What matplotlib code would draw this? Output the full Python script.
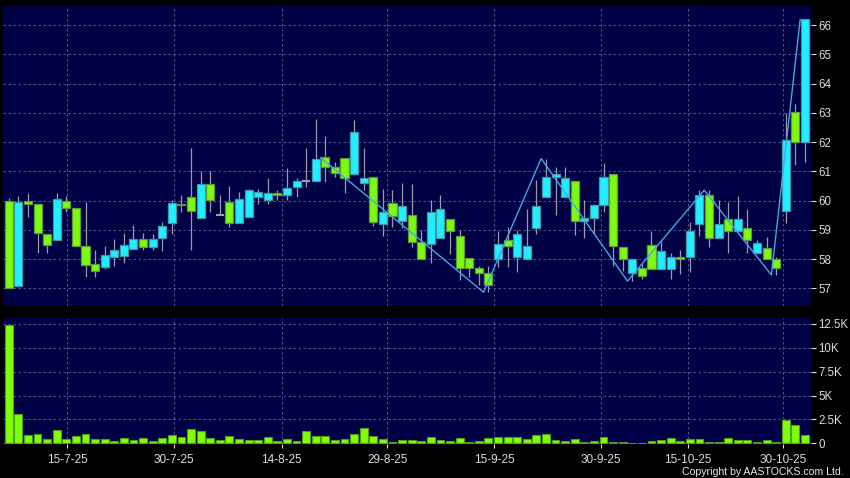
import matplotlib.pyplot as plt
import numpy as np

plt.rcParams['font.family'] = ['Liberation Sans', 'DejaVu Sans']

# daily candles
opens = [60.0, 57.1, 60.0, 59.9, 58.85, 58.65, 60.0, 59.74, 58.44, 57.85,
         57.75, 58.06, 58.1, 58.34, 58.69, 58.41, 58.72, 59.24, 59.9, 60.14,
         59.4, 60.57, 59.5, 59.94, 59.25, 59.45, 60.11, 60.01, 60.27, 60.18,
         60.45, 60.68, 60.67, 61.48, 61.14, 61.45, 60.9, 60.59, 60.8, 59.19,
         59.93, 59.3, 59.5, 58.6, 58.52, 58.74, 59.37, 58.8, 58.05, 57.69,
         57.52, 57.99, 58.66, 58.08, 58.0, 59.05, 60.11, 60.82, 60.13, 60.67,
         59.3, 59.4, 59.85, 60.91, 58.43, 57.54, 57.69, 58.5, 57.66, 57.66,
         58.08, 58.06, 59.2, 60.18, 58.74, 59.39, 58.96, 59.07, 58.2, 58.39,
         57.99, 59.64, 63.04, 61.99]
closes = [57.0, 59.95, 59.9, 58.9, 58.5, 60.05, 59.74, 58.44, 57.79, 57.58,
          58.16, 58.3, 58.5, 58.7, 58.41, 58.7, 59.15, 59.93, 59.84, 59.64,
          60.56, 60.02, 59.5, 59.25, 60.04, 60.35, 60.28, 60.27, 60.18, 60.44,
          60.67, 60.68, 61.41, 61.14, 60.93, 60.79, 62.33, 60.79, 59.26, 59.62,
          59.47, 59.83, 58.6, 58.0, 59.6, 59.73, 58.96, 57.69, 57.69, 57.52,
          57.12, 58.51, 58.46, 58.85, 58.45, 59.83, 60.8, 60.9, 60.76, 59.3,
          59.4, 59.84, 60.8, 58.45, 58.0, 57.99, 57.42, 57.66, 58.29, 58.08,
          57.99, 58.98, 60.18, 58.74, 59.19, 58.96, 59.39, 58.65, 58.54, 58.0,
          57.71, 62.06, 61.99, 66.19]
highs = [60.1, 60.15, 60.25, 59.9, 58.85, 60.27, 60.17, 59.74, 59.96, 58.3,
         58.45, 58.7, 58.9, 59.16, 58.9, 58.87, 59.27, 60.01, 60.18, 61.8,
         61.0, 61.0, 60.2, 60.5, 60.3, 60.4, 60.4, 60.76, 60.38, 61.1,
         60.76, 61.79, 62.78, 62.2, 61.33, 61.45, 62.75, 61.79, 60.8, 60.4,
         60.37, 60.59, 60.57, 59.0, 60.02, 60.19, 59.37, 59.0, 58.05, 57.78,
         57.78, 58.96, 59.11, 59.0, 59.72, 60.7, 61.44, 61.14, 61.14, 60.67,
         60.02, 59.9, 61.3, 60.91, 58.43, 57.99, 57.86, 58.96, 58.63, 58.2,
         58.33, 59.28, 60.36, 60.36, 60.02, 59.96, 60.16, 59.7, 58.65, 58.75,
         58.08, 62.98, 63.3, 66.19]
lows = [57.0, 57.1, 59.45, 58.2, 58.2, 58.65, 59.6, 58.44, 57.4, 57.4,
        57.65, 57.78, 57.88, 58.34, 58.33, 58.33, 58.28, 58.87, 59.6, 58.3,
        59.4, 59.62, 59.5, 59.09, 59.25, 59.45, 59.89, 59.9, 60.02, 60.02,
        60.13, 60.47, 60.67, 60.65, 60.82, 60.25, 60.9, 60.37, 59.14, 58.8,
        59.1, 59.05, 58.42, 58.0, 57.87, 58.74, 58.17, 57.29, 57.4, 57.12,
        56.87, 57.74, 57.74, 57.57, 58.0, 58.87, 60.11, 59.5, 60.13, 58.82,
        58.74, 58.88, 59.6, 57.78, 57.6, 57.25, 57.31, 57.66, 57.66, 57.34,
        57.51, 57.57, 58.8, 58.43, 58.74, 58.2, 58.96, 58.2, 58.2, 58.0,
        57.46, 59.25, 61.22, 61.33]
# volume in thousands
volumes = [12.4, 3.05, 0.88, 1.0, 0.45, 1.4, 0.45, 0.74, 0.98, 0.45,
           0.42, 0.25, 0.56, 0.32, 0.56, 0.28, 0.52, 0.84, 0.67, 1.47,
           1.26, 0.52, 0.35, 0.74, 0.45, 0.38, 0.38, 0.67, 0.28, 0.45,
           0.25, 1.26, 0.77, 0.77, 0.38, 0.45, 1.0, 1.58, 0.8, 0.49,
           0.14, 0.35, 0.35, 0.25, 0.7, 0.35, 0.25, 0.52, 0.18, 0.28,
           0.52, 0.7, 0.63, 0.63, 0.42, 0.88, 0.98, 0.35, 0.25, 0.45,
           0.1, 0.25, 0.7, 0.18, 0.1, 0.04, 0.04, 0.25, 0.35, 0.52,
           0.28, 0.45, 0.45, 0.18, 0.18, 0.56, 0.38, 0.35, 0.14, 0.32,
           0.18, 2.45, 1.93, 0.88]

# zigzag pivots (candle index, price)
zz_idx = [33, 50, 56, 65, 73, 80, 83]
zz_val = [61.47, 56.87, 61.44, 57.25, 60.36, 57.46, 66.19]

date_pos = [6.1, 17.25, 28.45, 39.45, 50.6, 61.7, 70.8, 80.75]
date_labels = ['15-7-25', '30-7-25', '14-8-25', '29-8-25',
               '15-9-25', '30-9-25', '15-10-25', '30-10-25']
price_ticks = list(range(57, 67))
vol_ticks = [0, 2.5, 5, 7.5, 10, 12.5]
vol_labels = ['0', '2.5K', '5K', '7.5K', '10K', '12.5K']

NAVY = '#000044'
GRID = '#63639a'
TXT = '#dcdcdc'
UP, UP_EDGE = '#22eeff', '#3c9aa8'
DN, DN_EDGE = '#7dfa10', '#5d9a3a'

o = np.array(opens)
c = np.array(closes)
h = np.array(highs)
l = np.array(lows)
x = np.arange(len(o))

fig = plt.figure(figsize=(8.5, 4.78), dpi=100, facecolor='black')
ax1 = fig.add_axes([0.0041, 0.3598, 0.9497, 0.6276])
ax2 = fig.add_axes([0.0041, 0.0711, 0.9497, 0.2626])

for ax in (ax1, ax2):
    ax.set_facecolor(NAVY)
    for s in ax.spines.values():
        s.set_visible(False)
    ax.yaxis.tick_right()
    ax.grid(True, color=GRID, linestyle=(0, (3, 3)), linewidth=0.6)
    ax.set_axisbelow(True)
    ax.set_xlim(-0.55, 83.6)
    ax.set_xticks(date_pos)
    ax.tick_params(axis='y', colors=TXT, length=3.5, width=0.8, pad=2, labelsize=8.3)

# wicks
ax1.vlines(x, l, h, color='#9a9aa8', linewidth=0.9, zorder=2)

up = c > o
dn = c < o
flat = c == o
ax1.bar(x[up], (c - o)[up], bottom=o[up], width=0.84,
        color=UP, edgecolor=UP_EDGE, linewidth=0.9, zorder=3)
ax1.bar(x[dn], (o - c)[dn], bottom=c[dn], width=0.84,
        color=DN, edgecolor=DN_EDGE, linewidth=0.9, zorder=3)
ax1.hlines(o[flat], x[flat] - 0.42, x[flat] + 0.42, color='#9a9aa8', linewidth=1.5, zorder=3)

ax1.plot(np.array(zz_idx) - 0.5, zz_val, color='#40a8e6', linewidth=1.0, zorder=4)

ax1.set_ylim(56.4, 66.65)
ax1.set_yticks(price_ticks)
ax1.set_yticklabels([str(v) for v in price_ticks])
ax1.tick_params(axis='x', length=0, labelbottom=False)

ax2.bar(x, volumes, width=0.82, color='#80ff00', edgecolor='#4f9a20', linewidth=0.8, zorder=3)
ax2.set_ylim(-0.07, 13.06)
ax2.set_yticks(vol_ticks)
ax2.set_yticklabels(vol_labels)
ax2.set_xticklabels(date_labels)
ax2.tick_params(axis='x', colors=TXT, length=3, width=0.8, pad=4, labelsize=8.5)

fig.text(0.993, 0.0135, 'Copyright by AASTOCKS.com Ltd.', ha='right', va='center',
         fontsize=7.6, color='#e8e8e8')

plt.savefig('out.png', dpi=100, facecolor='black')
